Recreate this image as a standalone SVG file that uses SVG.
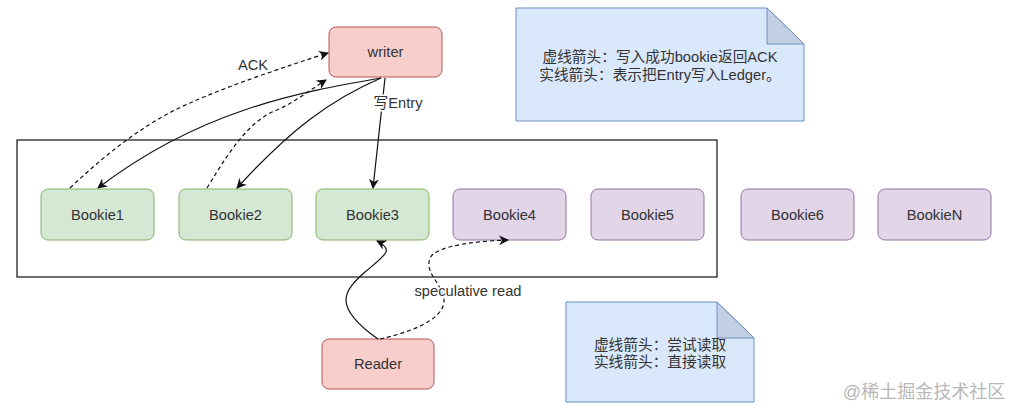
<svg xmlns="http://www.w3.org/2000/svg" width="1019" height="417" viewBox="0 0 1019 417">
<defs>
<style>
.t{font-family:"Liberation Sans","Noto Sans CJK SC",sans-serif;font-size:14.7px;fill:#333;text-anchor:middle;dominant-baseline:central}
.g{fill:#d5e8d4;stroke:#82b366;stroke-width:1}
.p{fill:#e1d5e7;stroke:#9673a6;stroke-width:1}
.r{fill:#f8cecc;stroke:#b85450;stroke-width:1}
.n{fill:#dae8fc;stroke:#6c8ebf;stroke-width:1}
.f{fill:#c3d0e4;stroke:#6c8ebf;stroke-width:1}
.c{fill:none;stroke:#111;stroke-width:1.2}
.d{stroke-dasharray:4 3}
.h{paint-order:stroke;stroke:#fff;stroke-width:3}
</style>
<marker id="a" viewBox="0 0 10 10" refX="9" refY="5" markerWidth="10" markerHeight="10" markerUnits="userSpaceOnUse" orient="auto">
<path d="M0,0 L10,5 L0,10 L3,5 Z" fill="#111"/>
</marker>
</defs>
<rect width="1019" height="417" fill="#fff"/>
<rect id="container" x="17" y="140" width="700" height="137" fill="none" stroke="#111" stroke-width="1.2"/>
<g id="writer"><rect class="r" x="329" y="27" width="113" height="50" rx="7"/><text class="t" x="385.5" y="52">writer</text></g>
<g id="bookie1"><rect class="g" x="41" y="189" width="113" height="51" rx="7"/><text class="t" x="97.5" y="214.5">Bookie1</text></g>
<g id="bookie2"><rect class="g" x="179" y="189" width="113" height="51" rx="7"/><text class="t" x="235.5" y="214.5">Bookie2</text></g>
<g id="bookie3"><rect class="g" x="316" y="189" width="113" height="51" rx="7"/><text class="t" x="372.5" y="214.5">Bookie3</text></g>
<g id="bookie4"><rect class="p" x="453" y="189" width="113" height="51" rx="7"/><text class="t" x="509.5" y="214.5">Bookie4</text></g>
<g id="bookie5"><rect class="p" x="591" y="189" width="113" height="51" rx="7"/><text class="t" x="647.5" y="214.5">Bookie5</text></g>
<g id="bookie6"><rect class="p" x="741" y="189" width="113" height="51" rx="7"/><text class="t" x="797.5" y="214.5">Bookie6</text></g>
<g id="bookieN"><rect class="p" x="878" y="189" width="113" height="51" rx="7"/><text class="t" x="934.5" y="214.5">BookieN</text></g>
<g id="reader"><rect class="r" x="322" y="339" width="112" height="50" rx="7"/><text class="t" x="378" y="364">Reader</text></g>
<g id="note1"><path class="n" d="M516,8 H767 L804,44 V121 H516 Z"/><path class="f" d="M767,8 V44 H804 Z"/>
<text class="t" x="660" y="57">虚线箭头：写入成功bookie返回ACK</text><text class="t" x="660" y="75">实线箭头：表示把Entry写入Ledger。</text></g>
<g id="note2"><path class="n" d="M566,302 H717 L754,338 V402 H566 Z"/><path class="f" d="M717,302 V338 H754 Z"/>
<text class="t" x="660" y="345">虚线箭头：尝试读取</text><text class="t" x="660" y="362">实线箭头：直接读取</text></g>
<g id="connectors">
<path class="c d" d="M70,188 C110,150 150,120 190,103 C230,85 290,65 328,53" marker-end="url(#a)"/>
<path class="c" d="M381,78 C300,92 200,110 98,188" marker-end="url(#a)"/>
<path class="c d" d="M207,188 C230,150 250,120 277,110 C295,102 310,90 326,80" marker-end="url(#a)"/>
<path class="c" d="M381,78 C330,100 290,130 237,188" marker-end="url(#a)"/>
<path class="c" d="M385,78 L373,188" marker-end="url(#a)"/>
<path class="c" d="M378,339 C330,305 345,290 365,272 C385,255 395,250 377,241" marker-end="url(#a)"/>
<path class="c d" d="M380,339 C420,330 450,315 443,295 C438,280 425,272 430,258 C436,245 480,241 508,240" marker-end="url(#a)"/>
<text class="t h" x="253" y="65">ACK</text>
<text class="t h" x="398" y="103">写Entry</text>
<text class="t h" x="468" y="291">speculative read</text>
</g>
<text x="924" y="392" style="font-family:'Liberation Sans','Noto Sans CJK SC',sans-serif;font-size:18px;fill:#b8b8b8;text-anchor:middle;dominant-baseline:central">@稀土掘金技术社区</text>
</svg>
